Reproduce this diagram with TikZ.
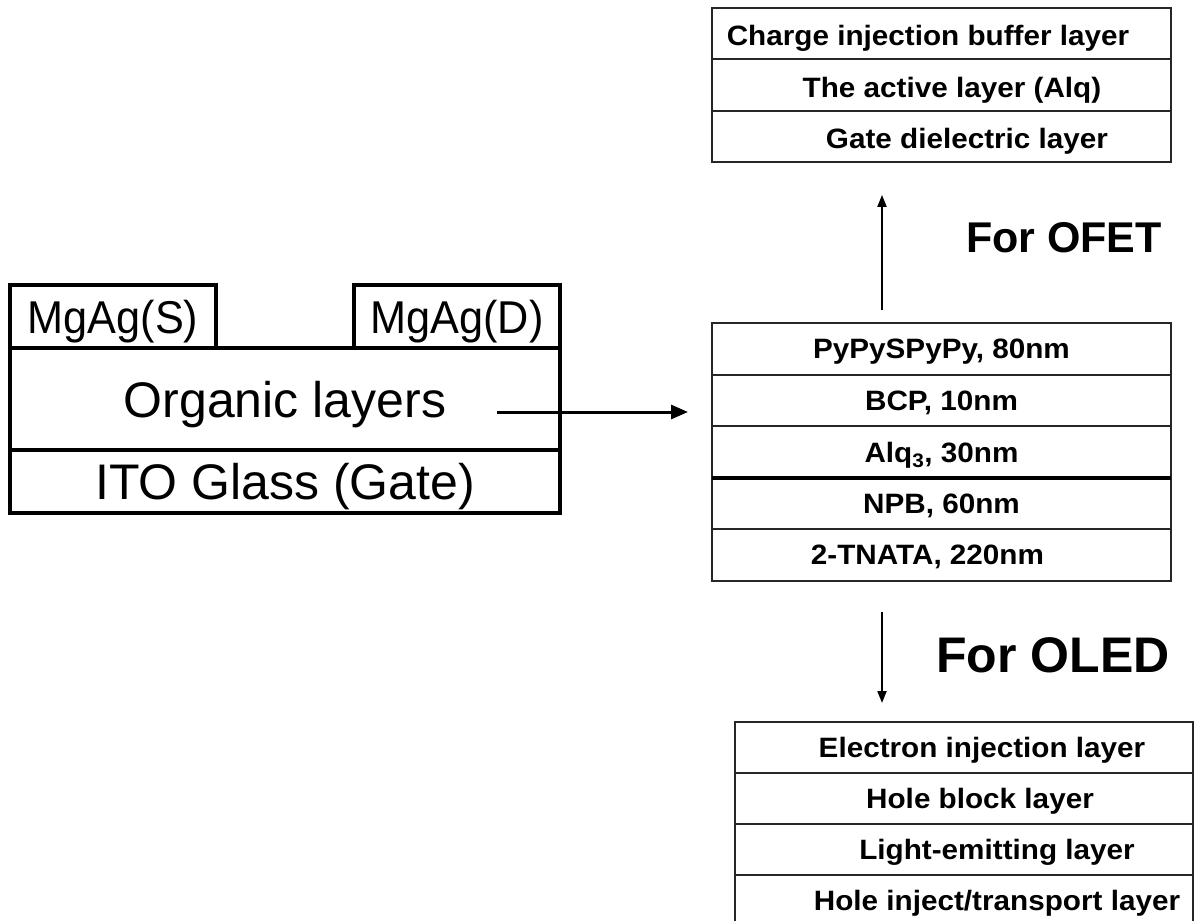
\documentclass[tikz,border=0pt]{standalone}
\usepackage{fontspec}
\setmainfont{Liberation Sans}
\newfontfamily\widesans[FakeStretch=1.06]{Liberation Sans}
\newfontfamily\tallsans[FakeStretch=0.94]{Liberation Sans}
\usetikzlibrary{positioning,arrows.meta}
\tikzset{
  device/.style={
    draw=black,
    line width=4pt,
    outer sep=0pt,
    inner sep=0pt,
    text depth=0pt,
    minimum width=550pt,
    font=\fontsize{50}{56}\selectfont
  },
  contact/.style={
    device,
    minimum width=206pt,
    minimum height=63pt,
    font=\tallsans\fontsize{46}{52}\selectfont
  },
  layer/.style={
    draw=black!85,
    line width=2pt,
    outer sep=0pt,
    inner sep=0pt,
    text depth=0pt,
    minimum width=459pt,
    minimum height=51.6pt,
    font=\widesans\bfseries\fontsize{28}{32}\selectfont
  },
  layertext/.style={
    inner sep=0pt,
    text depth=0pt,
    font=\widesans\bfseries\fontsize{28}{32}\selectfont
  },
  purpose/.style={
    text=black,
    font=\bfseries\fontsize{43}{48}\selectfont
  },
  flow/.style={
    draw=black,
    line width=3pt,
    -{Triangle[length=17pt,width=14pt]}
  },
  lift/.style={
    draw=black,
    line width=2pt,
    -{Triangle[length=12pt,width=9pt]}
  }
}

\begin{document}
\begin{tikzpicture}[x=1pt,y=-1pt]
  \useasboundingbox (0,0) rectangle (1195,921);
  \fill[white] (0,0) rectangle (1195,921);

  % device cross-section
  \node[device, minimum height=102pt, anchor=north west] (organic) at (10,348)
    {Organic layers};
  \node[device, minimum height=63pt, below=0pt of organic] (ito)
    {ITO Glass (Gate)};
  \node[contact, anchor=south west] (source) at (organic.north west) {MgAg(S)};
  \node[contact, anchor=south east] (drain) at (organic.north east) {MgAg(D)};
  \coordinate (feed) at ([xshift=-63pt,yshift=-13pt]organic.east);

  % organic stack
  \node[layer, anchor=north west] (pyr) at (712,323) {PyPySPyPy, 80nm};
  \node[layer, below=0pt of pyr] (bcp) {BCP, 10nm};
  \node[layer, below=0pt of bcp] (alq) {Alq\textsubscript{3}, 30nm};
  \node[layer, below=0pt of alq] (npb) {NPB, 60nm};
  \node[layer, below=0pt of npb] (tnata) {};
  \node[layertext] (tnatatext) at ([xshift=-14pt]tnata.center) {2-TNATA, 220nm};
  \draw[black, line width=3.5pt] (alq.south west) -- (alq.south east);

  \draw[flow, shorten >=24pt] (feed) -- (feed -| pyr.west);

  % OFET stack
  \node[layer, minimum height=51.3pt, anchor=north west] (buffer) at (712,8) {};
  \node[layer, minimum height=51.3pt, below=0pt of buffer] (active) {};
  \node[layer, minimum height=51.3pt, below=0pt of active] (dielectric) {};
  \node[layertext] (buffertext) at ([xshift=-13.5pt,yshift=-2pt]buffer.center)
    {Charge injection buffer layer};
  \node[layertext] (activetext) at ([xshift=10.5pt,yshift=-2pt]active.center)
    {The active layer (Alq)};
  \node[layertext] (dielectrictext) at ([xshift=25.5pt,yshift=-2pt]dielectric.center)
    {Gate dielectric layer};

  \draw[lift] ([xshift=-59.5pt,yshift=13pt]pyr.north)
    -- ([xshift=-59.5pt,yshift=-33pt]dielectric.south);
  \node[purpose] (ofet) at (1064,238) {For OFET};

  % OLED stack
  \node[layer, minimum width=458pt, minimum height=51pt, anchor=north west]
    (electron) at (735,722) {};
  \node[layer, minimum width=458pt, minimum height=51pt, below=0pt of electron] (block) {};
  \node[layer, minimum width=458pt, minimum height=51pt, below=0pt of block] (emit) {};
  \node[layer, minimum width=458pt, minimum height=51pt, below=0pt of emit] (hole) {};
  \node[layertext] (electrontext) at ([xshift=18pt]electron.center)
    {Electron injection layer};
  \node[layertext] (blocktext) at ([xshift=16pt]block.center) {Hole block layer};
  \node[layertext] (emittext) at ([xshift=33pt]emit.center) {Light-emitting layer};
  \node[layertext] (holetext) at ([xshift=33pt]hole.center)
    {Hole inject/transport layer};

  \draw[lift] ([xshift=-59.5pt,yshift=-31pt]tnata.south)
    -- ([xshift=-82pt,yshift=19pt]electron.north);
  \node[purpose, font=\bfseries\fontsize{50}{56}\selectfont] (oled) at (1053,655)
    {For OLED};
\end{tikzpicture}
\end{document}
